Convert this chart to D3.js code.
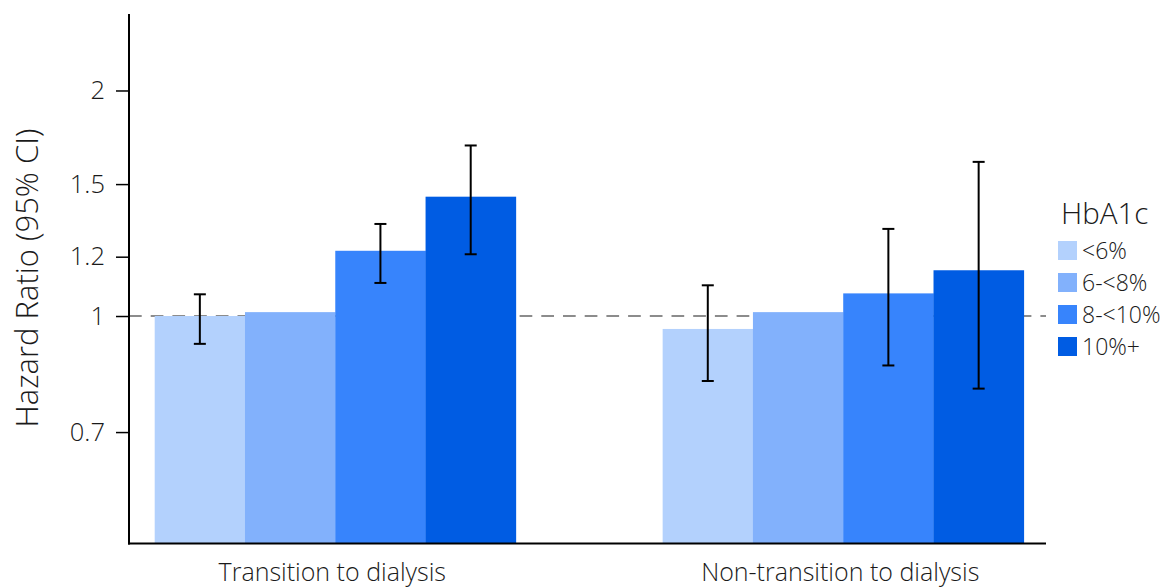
<!DOCTYPE html>
<html>
<head>
<meta charset="utf-8">
<script src="https://cdn.jsdelivr.net/npm/d3@7"></script>
<style>
  html, body { margin: 0; padding: 0; background: #fff; }
  svg { display: block; }
  text { font-family: "Open Sans", "Segoe UI", sans-serif; font-weight: 300; fill: #1a1a1a; }
</style>
</head>
<body>
<svg id="chart" width="1167" height="588"></svg>
<script>
// ---- data ----
const groups = ["Transition to dialysis", "Non-transition to dialysis"];
const series = ["<6%", "6-<8%", "8-<10%", "10%+"];
const colors = ["#b3d1fd", "#82b1fc", "#3784fc", "#005ce3"];
// hazard ratios [group][series]
const hrTransition    = [1.00, 1.012, 1.222, 1.443];
const hrNonTransition = [0.961, 1.012, 1.072, 1.151];
// 95% CI lower / upper (null = no error bar)
const ciLowTransition     = [0.918, null, 1.107, 1.209];
const ciHighTransition    = [1.069, null, 1.327, 1.689];
const ciLowNonTransition  = [0.819, null, 0.859, 0.800];
const ciHighNonTransition = [1.099, null, 1.307, 1.606];
const yTicks = [0.7, 1, 1.2, 1.5, 2];
const yTickLabels = ["0.7", "1", "1.2", "1.5", "2"];
const yTitle = "Hazard Ratio (95% CI)";
const legendTitle = "HbA1c";
const refLine = 1;

const hr = [hrTransition, hrNonTransition];
const lo = [ciLowTransition, ciLowNonTransition];
const hi = [ciHighTransition, ciHighNonTransition];

const rows = [];
groups.forEach((g, gi) => series.forEach((s, si) => rows.push({
  group: g, series: s, color: colors[si], value: hr[gi][si], lo: lo[gi][si], hi: hi[gi][si]
})));

// ---- layout ----
const svg = d3.select("#chart");
const axisX = 129, axisBottom = 543.5, axisTop = 14, axisRight = 1046;

const y = d3.scaleLog().domain([0.497, 2.53]).range([axisBottom, axisTop]);
const x0 = d3.scaleBand().domain(groups).range([axisX, 1049.5]).paddingInner(0.289).paddingOuter(0.0506);
const x1 = d3.scaleBand().domain(series).range([0, x0.bandwidth()]).padding(0);

// reference dashed line (behind bars)
svg.append("line")
  .attr("x1", axisX).attr("x2", axisRight)
  .attr("y1", y(refLine)).attr("y2", y(refLine))
  .attr("stroke", "#8c8c8c").attr("stroke-width", 2)
  .attr("stroke-dasharray", "12.7,9");

// bars
svg.append("g").selectAll("rect").data(rows).join("rect")
  .attr("x", d => x0(d.group) + x1(d.series))
  .attr("width", x1.bandwidth() + 0.3)
  .attr("y", d => y(d.value))
  .attr("height", d => axisBottom - y(d.value))
  .attr("fill", d => d.color);

// error bars
const eb = svg.append("g").selectAll("g").data(rows.filter(d => d.lo != null)).join("g")
  .attr("stroke", "#000").attr("stroke-width", 2);
const cx = d => x0(d.group) + x1(d.series) + x1.bandwidth() / 2;
eb.append("line").attr("x1", cx).attr("x2", cx).attr("y1", d => y(d.lo)).attr("y2", d => y(d.hi));
eb.append("line").attr("x1", d => cx(d) - 6).attr("x2", d => cx(d) + 6).attr("y1", d => y(d.lo)).attr("y2", d => y(d.lo));
eb.append("line").attr("x1", d => cx(d) - 6).attr("x2", d => cx(d) + 6).attr("y1", d => y(d.hi)).attr("y2", d => y(d.hi));

// y axis
const yAxis = d3.axisLeft(y).tickValues(yTicks)
  .tickFormat((d, i) => yTickLabels[i]).tickSize(13).tickPadding(11).tickSizeOuter(0);
const gy = svg.append("g").attr("transform", `translate(${axisX},0)`).call(yAxis);
gy.select(".domain").remove();
gy.selectAll(".tick line").attr("stroke", "#000").attr("stroke-width", 1.5);
gy.selectAll(".tick text").attr("font-size", 25.5).attr("fill", "#222")
  .style("font-family", '"Open Sans", sans-serif').style("font-weight", 300);
svg.append("line").attr("x1", axisX).attr("x2", axisX).attr("y1", axisTop).attr("y2", axisBottom + 1)
  .attr("stroke", "#000").attr("stroke-width", 2);

// x axis
svg.append("line").attr("x1", axisX - 1).attr("x2", axisRight).attr("y1", axisBottom).attr("y2", axisBottom)
  .attr("stroke", "#000").attr("stroke-width", 2);
svg.append("g").selectAll("text").data(groups).join("text")
  .attr("x", d => x0(d) + x0.bandwidth() / 2 - 3)
  .attr("y", 581)
  .attr("text-anchor", "middle")
  .attr("font-size", 25)
  .text(d => d);

// y title
svg.append("text")
  .attr("transform", `translate(38,278) rotate(-90)`)
  .attr("text-anchor", "middle")
  .attr("font-size", 31)
  .text(yTitle);

// legend
const lg = svg.append("g");
lg.append("text").attr("x", 1061).attr("y", 224).attr("font-size", 29.5).text(legendTitle);
const li = lg.selectAll("g.item").data(series).join("g").attr("class", "item")
  .attr("transform", (d, i) => `translate(1058,${241 + i * 32})`);
li.append("rect").attr("width", 19).attr("height", 19).attr("fill", (d, i) => colors[i]);
li.append("text").attr("x", 24).attr("y", 17.5).attr("font-size", 23).text(d => d);
</script>
</body>
</html>
